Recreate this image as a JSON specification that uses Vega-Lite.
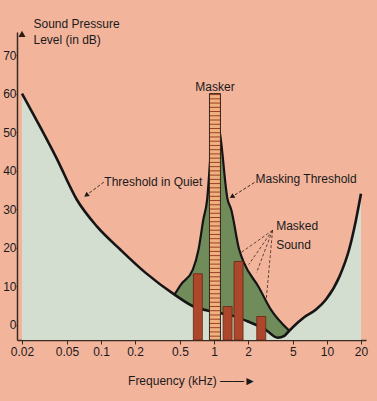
{
  "$schema": "https://vega.github.io/schema/vega-lite/v6.json",
  "width": 349,
  "height": 308,
  "autosize": {"type": "none"},
  "padding": {"left": 17, "top": 32, "right": 11, "bottom": 61},
  "background": "#F3B49C",
  "config": {
    "view": {"stroke": null},
    "font": "Liberation Sans",
    "axis": {"grid": false, "domainColor": "#3a2a20", "tickColor": "#3a2a20", "labelColor": "#1a1a1a", "titleColor": "#1a1a1a", "labelFontSize": 12, "titleFontSize": 12, "titleFontWeight": "normal", "labelFont": "Liberation Sans", "titleFont": "Liberation Sans"}
  },
  "datasets": {
    "quiet": [
      {"f": 0.02, "db": 60},
      {"f": 0.03, "db": 50.5},
      {"f": 0.04, "db": 43.5},
      {"f": 0.061, "db": 32.5},
      {"f": 0.092, "db": 25.5},
      {"f": 0.148, "db": 19.5},
      {"f": 0.247, "db": 13.5},
      {"f": 0.447, "db": 7.8},
      {"f": 0.66, "db": 4.7},
      {"f": 1.0, "db": 3.3},
      {"f": 1.5, "db": 2.2},
      {"f": 2.0, "db": 0.8},
      {"f": 2.85, "db": -1.3},
      {"f": 3.66, "db": -3.4},
      {"f": 4.2, "db": -2.9},
      {"f": 4.64, "db": -1.6},
      {"f": 5.65, "db": 0.8},
      {"f": 6.2, "db": 1.8},
      {"f": 8.0, "db": 3.9},
      {"f": 9.8, "db": 6.5},
      {"f": 12.9, "db": 12.5},
      {"f": 15.7, "db": 19.5},
      {"f": 18, "db": 27},
      {"f": 20, "db": 34}
    ],
    "masking": [
      {"f": 0.447, "db": 7.8},
      {"f": 0.51, "db": 10.4},
      {"f": 0.65, "db": 14.3},
      {"f": 0.73, "db": 19.5},
      {"f": 0.805, "db": 27.3},
      {"f": 0.87, "db": 32.5},
      {"f": 0.937, "db": 45.5},
      {"f": 0.97, "db": 53},
      {"f": 1.0, "db": 56},
      {"f": 1.06, "db": 53},
      {"f": 1.125, "db": 50},
      {"f": 1.32, "db": 32.5},
      {"f": 1.42, "db": 29.9},
      {"f": 1.67, "db": 19.5},
      {"f": 1.84, "db": 16.1},
      {"f": 2.47, "db": 9.9},
      {"f": 3.19, "db": 3.9},
      {"f": 4.64, "db": -1.6}
    ],
    "masked": [
      {"f": 0.72, "db": 13.2},
      {"f": 1.32, "db": 4.7},
      {"f": 1.65, "db": 16.4},
      {"f": 2.62, "db": 2.1}
    ],
    "masker": [{"f": 1.02, "db": 60, "text": "Masker"}],
    "fan": [
      {"f": 3.3, "db": 24.5, "f2": 1.735, "db2": 18.7},
      {"f": 3.3, "db": 24.5, "f2": 2.03, "db2": 15.6},
      {"f": 3.3, "db": 24.5, "f2": 2.38, "db2": 13.5},
      {"f": 3.3, "db": 24.5, "f2": 2.9, "db2": 6.5}
    ],
    "arrows": [
      {"name": "quiet", "f": 0.106, "db": 37.0, "f2": 0.074, "db2": 33.6},
      {"name": "mask", "f": 2.28, "db": 36.9, "f2": 1.44, "db2": 33.2}
    ],
    "axisarrow": [{"f": 0.02, "db": 75.5}],
    "labels": [
      {"f": 0.107, "db": 37.1, "text": "Threshold in Quiet"},
      {"f": 2.33, "db": 37.7, "text": "Masking Threshold"},
      {"f": 3.55, "db": 25.5, "text": "Masked"},
      {"f": 3.55, "db": 20.8, "text": "Sound"}
    ]
  },
  "encoding": {
    "x": {
      "field": "f", "type": "quantitative",
      "scale": {"type": "log", "domain": [0.02, 20]},
      "axis": {
        "values": [0.02, 0.05, 0.1, 0.2, 0.5, 1, 2, 5, 10, 20],
        "labelExpr": "format(datum.value, '~g')",
        "labelFlush": false, "labelOverlap": false, "labelBound": false,
        "tickSize": 4, "labelPadding": 2, "domainWidth": 1.5,
        "title": "Frequency (kHz)  ——►",
        "titleY": 44, "titleBaseline": "alphabetic"
      }
    },
    "y": {
      "field": "db", "type": "quantitative",
      "scale": {"domain": [-4, 76], "nice": false, "zero": false},
      "axis": {
        "values": [0, 10, 20, 30, 40, 50, 60, 70],
        "tickSize": 1, "labelPadding": 0, "domainWidth": 1.5,
        "title": ["Sound Pressure", "Level (in dB)"],
        "titleAngle": 0, "titleAlign": "left", "titleBaseline": "alphabetic",
        "titleX": 16, "titleY": -5, "titleLineHeight": 16
      }
    }
  },
  "layer": [
    {
      "data": {"name": "masking"},
      "mark": {"type": "area", "color": "#6F8C5A", "interpolate": "monotone"},
      "encoding": {"y2": {"datum": -4}}
    },
    {
      "data": {"name": "quiet"},
      "mark": {"type": "area", "color": "#D3DDD0", "interpolate": "monotone"},
      "encoding": {"y2": {"datum": -4}}
    },
    {
      "data": {"name": "masking"},
      "mark": {"type": "line", "color": "#151515", "strokeWidth": 2.2, "interpolate": "monotone"},
      "encoding": {}
    },
    {
      "data": {"name": "quiet"},
      "mark": {"type": "line", "color": "#151515", "strokeWidth": 2.6, "interpolate": "monotone"},
      "encoding": {}
    },
    {
      "data": {"name": "masked"},
      "mark": {"type": "bar", "size": 9, "color": "#AD472B", "stroke": "#6B2614", "strokeWidth": 0.8},
      "encoding": {"y2": {"datum": -4}}
    },
    {
      "data": {"name": "masker"},
      "mark": {
        "type": "bar", "size": 11, "stroke": "#3a2418", "strokeWidth": 1,
        "fill": {
          "gradient": "linear", "x1": 0, "y1": 0, "x2": 0, "y2": 1,
          "stops": [
            {"offset": 0, "color": "#EDB27E"}, {"offset": 0.004, "color": "#9E3B28"}, {"offset": 0.008, "color": "#EDB27E"},
            {"offset": 0.0172, "color": "#EDB27E"}, {"offset": 0.0212, "color": "#9E3B28"}, {"offset": 0.0252, "color": "#EDB27E"},
            {"offset": 0.0344, "color": "#EDB27E"}, {"offset": 0.0384, "color": "#9E3B28"}, {"offset": 0.0424, "color": "#EDB27E"},
            {"offset": 0.0516, "color": "#EDB27E"}, {"offset": 0.0556, "color": "#9E3B28"}, {"offset": 0.0596, "color": "#EDB27E"},
            {"offset": 0.0688, "color": "#EDB27E"}, {"offset": 0.0728, "color": "#9E3B28"}, {"offset": 0.0768, "color": "#EDB27E"},
            {"offset": 0.086, "color": "#EDB27E"}, {"offset": 0.09, "color": "#9E3B28"}, {"offset": 0.094, "color": "#EDB27E"},
            {"offset": 0.1032, "color": "#EDB27E"}, {"offset": 0.1072, "color": "#9E3B28"}, {"offset": 0.1112, "color": "#EDB27E"},
            {"offset": 0.1204, "color": "#EDB27E"}, {"offset": 0.1244, "color": "#9E3B28"}, {"offset": 0.1284, "color": "#EDB27E"},
            {"offset": 0.1376, "color": "#EDB27E"}, {"offset": 0.1416, "color": "#9E3B28"}, {"offset": 0.1456, "color": "#EDB27E"},
            {"offset": 0.1548, "color": "#EDB27E"}, {"offset": 0.1588, "color": "#9E3B28"}, {"offset": 0.1628, "color": "#EDB27E"},
            {"offset": 0.172, "color": "#EDB27E"}, {"offset": 0.176, "color": "#9E3B28"}, {"offset": 0.18, "color": "#EDB27E"},
            {"offset": 0.1892, "color": "#EDB27E"}, {"offset": 0.1932, "color": "#9E3B28"}, {"offset": 0.1972, "color": "#EDB27E"},
            {"offset": 0.2064, "color": "#EDB27E"}, {"offset": 0.2104, "color": "#9E3B28"}, {"offset": 0.2144, "color": "#EDB27E"},
            {"offset": 0.2236, "color": "#EDB27E"}, {"offset": 0.2276, "color": "#9E3B28"}, {"offset": 0.2316, "color": "#EDB27E"},
            {"offset": 0.2408, "color": "#EDB27E"}, {"offset": 0.2448, "color": "#9E3B28"}, {"offset": 0.2488, "color": "#EDB27E"},
            {"offset": 0.258, "color": "#EDB27E"}, {"offset": 0.262, "color": "#9E3B28"}, {"offset": 0.266, "color": "#EDB27E"},
            {"offset": 0.2752, "color": "#EDB27E"}, {"offset": 0.2792, "color": "#9E3B28"}, {"offset": 0.2832, "color": "#EDB27E"},
            {"offset": 0.2924, "color": "#EDB27E"}, {"offset": 0.2964, "color": "#9E3B28"}, {"offset": 0.3004, "color": "#EDB27E"},
            {"offset": 0.3096, "color": "#EDB27E"}, {"offset": 0.3136, "color": "#9E3B28"}, {"offset": 0.3176, "color": "#EDB27E"},
            {"offset": 0.3268, "color": "#EDB27E"}, {"offset": 0.3308, "color": "#9E3B28"}, {"offset": 0.3348, "color": "#EDB27E"},
            {"offset": 0.344, "color": "#EDB27E"}, {"offset": 0.348, "color": "#9E3B28"}, {"offset": 0.352, "color": "#EDB27E"},
            {"offset": 0.3612, "color": "#EDB27E"}, {"offset": 0.3652, "color": "#9E3B28"}, {"offset": 0.3692, "color": "#EDB27E"},
            {"offset": 0.3784, "color": "#EDB27E"}, {"offset": 0.3824, "color": "#9E3B28"}, {"offset": 0.3864, "color": "#EDB27E"},
            {"offset": 0.3956, "color": "#EDB27E"}, {"offset": 0.3996, "color": "#9E3B28"}, {"offset": 0.4036, "color": "#EDB27E"},
            {"offset": 0.4128, "color": "#EDB27E"}, {"offset": 0.4168, "color": "#9E3B28"}, {"offset": 0.4208, "color": "#EDB27E"},
            {"offset": 0.43, "color": "#EDB27E"}, {"offset": 0.434, "color": "#9E3B28"}, {"offset": 0.438, "color": "#EDB27E"},
            {"offset": 0.4472, "color": "#EDB27E"}, {"offset": 0.4512, "color": "#9E3B28"}, {"offset": 0.4552, "color": "#EDB27E"},
            {"offset": 0.4644, "color": "#EDB27E"}, {"offset": 0.4684, "color": "#9E3B28"}, {"offset": 0.4724, "color": "#EDB27E"},
            {"offset": 0.4816, "color": "#EDB27E"}, {"offset": 0.4856, "color": "#9E3B28"}, {"offset": 0.4896, "color": "#EDB27E"},
            {"offset": 0.4988, "color": "#EDB27E"}, {"offset": 0.5028, "color": "#9E3B28"}, {"offset": 0.5068, "color": "#EDB27E"},
            {"offset": 0.516, "color": "#EDB27E"}, {"offset": 0.52, "color": "#9E3B28"}, {"offset": 0.524, "color": "#EDB27E"},
            {"offset": 0.5332, "color": "#EDB27E"}, {"offset": 0.5372, "color": "#9E3B28"}, {"offset": 0.5412, "color": "#EDB27E"},
            {"offset": 0.5504, "color": "#EDB27E"}, {"offset": 0.5544, "color": "#9E3B28"}, {"offset": 0.5584, "color": "#EDB27E"},
            {"offset": 0.5676, "color": "#EDB27E"}, {"offset": 0.5716, "color": "#9E3B28"}, {"offset": 0.5756, "color": "#EDB27E"},
            {"offset": 0.5848, "color": "#EDB27E"}, {"offset": 0.5888, "color": "#9E3B28"}, {"offset": 0.5928, "color": "#EDB27E"},
            {"offset": 0.602, "color": "#EDB27E"}, {"offset": 0.606, "color": "#9E3B28"}, {"offset": 0.61, "color": "#EDB27E"},
            {"offset": 0.6192, "color": "#EDB27E"}, {"offset": 0.6232, "color": "#9E3B28"}, {"offset": 0.6272, "color": "#EDB27E"},
            {"offset": 0.6364, "color": "#EDB27E"}, {"offset": 0.6404, "color": "#9E3B28"}, {"offset": 0.6444, "color": "#EDB27E"},
            {"offset": 0.6536, "color": "#EDB27E"}, {"offset": 0.6576, "color": "#9E3B28"}, {"offset": 0.6616, "color": "#EDB27E"},
            {"offset": 0.6708, "color": "#EDB27E"}, {"offset": 0.6748, "color": "#9E3B28"}, {"offset": 0.6788, "color": "#EDB27E"},
            {"offset": 0.688, "color": "#EDB27E"}, {"offset": 0.692, "color": "#9E3B28"}, {"offset": 0.696, "color": "#EDB27E"},
            {"offset": 0.7052, "color": "#EDB27E"}, {"offset": 0.7092, "color": "#9E3B28"}, {"offset": 0.7132, "color": "#EDB27E"},
            {"offset": 0.7224, "color": "#EDB27E"}, {"offset": 0.7264, "color": "#9E3B28"}, {"offset": 0.7304, "color": "#EDB27E"},
            {"offset": 0.7396, "color": "#EDB27E"}, {"offset": 0.7436, "color": "#9E3B28"}, {"offset": 0.7476, "color": "#EDB27E"},
            {"offset": 0.7568, "color": "#EDB27E"}, {"offset": 0.7608, "color": "#9E3B28"}, {"offset": 0.7648, "color": "#EDB27E"},
            {"offset": 0.774, "color": "#EDB27E"}, {"offset": 0.778, "color": "#9E3B28"}, {"offset": 0.782, "color": "#EDB27E"},
            {"offset": 0.7912, "color": "#EDB27E"}, {"offset": 0.7952, "color": "#9E3B28"}, {"offset": 0.7992, "color": "#EDB27E"},
            {"offset": 0.8084, "color": "#EDB27E"}, {"offset": 0.8124, "color": "#9E3B28"}, {"offset": 0.8164, "color": "#EDB27E"},
            {"offset": 0.8256, "color": "#EDB27E"}, {"offset": 0.8296, "color": "#9E3B28"}, {"offset": 0.8336, "color": "#EDB27E"},
            {"offset": 0.8428, "color": "#EDB27E"}, {"offset": 0.8468, "color": "#9E3B28"}, {"offset": 0.8508, "color": "#EDB27E"},
            {"offset": 0.86, "color": "#EDB27E"}, {"offset": 0.864, "color": "#9E3B28"}, {"offset": 0.868, "color": "#EDB27E"},
            {"offset": 0.8772, "color": "#EDB27E"}, {"offset": 0.8812, "color": "#9E3B28"}, {"offset": 0.8852, "color": "#EDB27E"},
            {"offset": 0.8944, "color": "#EDB27E"}, {"offset": 0.8984, "color": "#9E3B28"}, {"offset": 0.9024, "color": "#EDB27E"},
            {"offset": 0.9116, "color": "#EDB27E"}, {"offset": 0.9156, "color": "#9E3B28"}, {"offset": 0.9196, "color": "#EDB27E"},
            {"offset": 0.9288, "color": "#EDB27E"}, {"offset": 0.9328, "color": "#9E3B28"}, {"offset": 0.9368, "color": "#EDB27E"},
            {"offset": 0.946, "color": "#EDB27E"}, {"offset": 0.95, "color": "#9E3B28"}, {"offset": 0.954, "color": "#EDB27E"},
            {"offset": 0.9632, "color": "#EDB27E"}, {"offset": 0.9672, "color": "#9E3B28"}, {"offset": 0.9712, "color": "#EDB27E"},
            {"offset": 0.9804, "color": "#EDB27E"}, {"offset": 0.9844, "color": "#9E3B28"}, {"offset": 0.9884, "color": "#EDB27E"},
            {"offset": 1, "color": "#EDB27E"}
          ]
        }
      },
      "encoding": {"y2": {"datum": -4}}
    },
    {
      "data": {"name": "masker"},
      "mark": {"type": "text", "align": "center", "baseline": "middle", "fontSize": 12, "color": "#1a1a1a"},
      "encoding": {"y": {"datum": 61.8}, "text": {"field": "text"}}
    },
    {
      "data": {"name": "fan"},
      "mark": {"type": "rule", "color": "#3a2a20", "strokeWidth": 0.8, "strokeDash": [3, 2]},
      "encoding": {"x2": {"field": "f2"}, "y2": {"field": "db2"}}
    },
    {
      "data": {"name": "arrows"},
      "mark": {"type": "rule", "color": "#2a1a10", "strokeWidth": 0.9, "strokeDash": [3, 2]},
      "encoding": {"x2": {"field": "f2"}, "y2": {"field": "db2"}}
    },
    {
      "data": {"name": "arrows"},
      "transform": [{"filter": "datum.name === 'quiet'"}],
      "mark": {"type": "point", "shape": "triangle-up", "angle": 233, "size": 30, "filled": true, "color": "#1a1a1a", "opacity": 1},
      "encoding": {"x": {"field": "f2", "type": "quantitative"}, "y": {"field": "db2", "type": "quantitative"}}
    },
    {
      "data": {"name": "arrows"},
      "transform": [{"filter": "datum.name === 'mask'"}],
      "mark": {"type": "point", "shape": "triangle-up", "angle": 237, "size": 30, "filled": true, "color": "#1a1a1a", "opacity": 1},
      "encoding": {"x": {"field": "f2", "type": "quantitative"}, "y": {"field": "db2", "type": "quantitative"}}
    },
    {
      "data": {"name": "axisarrow"},
      "mark": {"type": "point", "shape": "triangle-up", "size": 50, "filled": true, "color": "#2a1a10", "opacity": 1, "clip": false},
      "encoding": {}
    },
    {
      "data": {"name": "labels"},
      "mark": {"type": "text", "align": "left", "baseline": "middle", "fontSize": 12, "color": "#1a1a1a"},
      "encoding": {"text": {"field": "text"}}
    }
  ]
}
